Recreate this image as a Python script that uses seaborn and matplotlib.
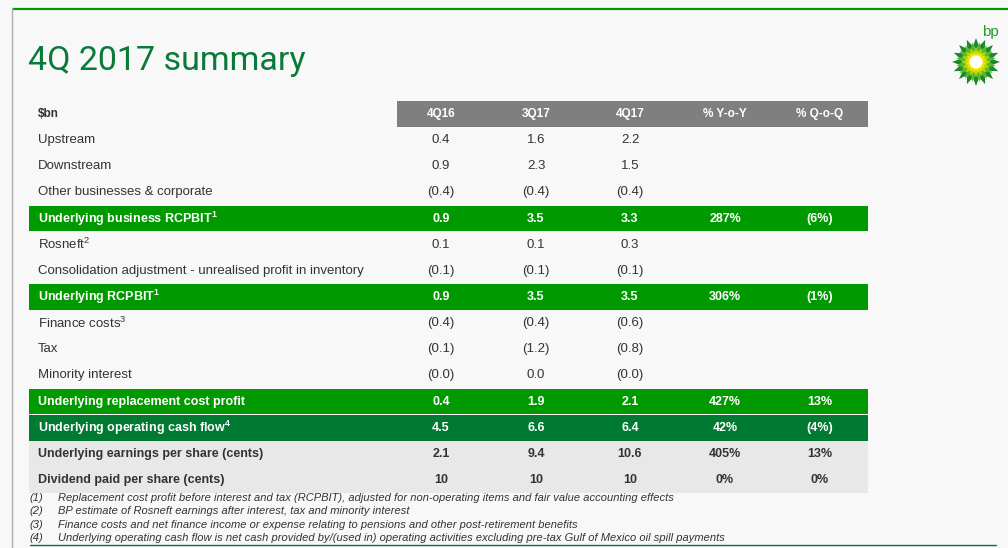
import numpy as np
import matplotlib
matplotlib.use("Agg")
import matplotlib.pyplot as plt
from matplotlib.patches import Polygon, Rectangle, Circle
import seaborn as sns

sns.set_theme(style="white")
plt.rcParams['font.family'] = ['Liberation Sans', 'DejaVu Sans']
plt.rcParams['mathtext.fontset'] = 'custom'
plt.rcParams['mathtext.rm'] = 'Liberation Sans'
plt.rcParams['mathtext.bf'] = 'Liberation Sans:bold'

# ---- data ----
columns = ['4Q16', '3Q17', '4Q17', '% Y-o-Y', '% Q-o-Q']
labels = ['Upstream', 'Downstream', 'Other businesses & corporate',
          r'Underlying business RCPBIT$^{\mathbf{1}}$', r'Rosneft$^{2}$',
          'Consolidation adjustment - unrealised profit in inventory',
          r'Underlying RCPBIT$^{\mathbf{1}}$', r'Finance costs$^{3}$', 'Tax',
          'Minority interest', 'Underlying replacement cost profit',
          r'Underlying operating cash flow$^{\mathbf{4}}$',
          'Underlying earnings per share (cents)',
          'Dividend paid per share (cents)']
q4_16 = ['0.4', '0.9', '(0.4)', '0.9', '0.1', '(0.1)', '0.9', '(0.4)', '(0.1)',
         '(0.0)', '0.4', '4.5', '2.1', '10']
q3_17 = ['1.6', '2.3', '(0.4)', '3.5', '0.1', '(0.1)', '3.5', '(0.4)', '(1.2)',
         '0.0', '1.9', '6.6', '9.4', '10']
q4_17 = ['2.2', '1.5', '(0.4)', '3.3', '0.3', '(0.1)', '3.5', '(0.6)', '(0.8)',
         '(0.0)', '2.1', '6.4', '10.6', '10']
yoy = ['', '', '', '287%', '', '', '306%', '', '', '', '427%', '42%', '405%', '0%']
qoq = ['', '', '', '(6%)', '', '', '(1%)', '', '', '', '13%', '(4%)', '13%', '0%']
row_kind = ['n', 'n', 'n', 'g', 'n', 'n', 'g', 'n', 'n', 'n', 'g', 'd', 'l', 'l']
footnotes = ['Replacement cost profit before interest and tax (RCPBIT), adjusted for non-operating items and fair value accounting effects',
             'BP estimate of Rosneft earnings after interest, tax and minority interest',
             'Finance costs and net finance income or expense relating to pensions and other post-retirement benefits',
             'Underlying operating cash flow is net cash provided by/(used in) operating activities excluding pre-tax Gulf of Mexico oil spill payments']

GREEN = '#009a00'
DKGREEN = '#007a33'
GREY = '#7f7f7f'
LTGREY = '#e8e8e8'
TXT = '#333333'

fig = plt.figure(figsize=(10.08, 5.48), dpi=100)
fig.patch.set_facecolor('#f8f8f8')
ax = fig.add_axes([0, 0, 1, 1])
ax.set_xlim(0, 1008)
ax.set_ylim(548, 0)
ax.axis('off')

# frame lines
ax.plot([12, 1008], [9, 9], color=GREEN, lw=1.6, solid_capstyle='butt')
ax.plot([12, 12], [8, 548], color='#b0b0b0', lw=1)

ax.text(28, 61, '4Q 2017 summary', fontsize=24.5, color='#0a7a3a',
        family=['Roboto', 'DejaVu Sans'], fontweight='normal', va='center')

# bp logo
cx, cy = 976, 62
def star(r_out, r_in, n, rot=0):
    ang = np.linspace(0, 2 * np.pi, 2 * n, endpoint=False) + rot
    rr = np.where(np.arange(2 * n) % 2 == 0, r_out, r_in)
    return np.column_stack([cx + rr * np.sin(ang), cy - rr * np.cos(ang)])
ax.add_patch(Polygon(star(24, 16, 16), closed=True, color='#1a8a2a', lw=0))
ax.add_patch(Polygon(star(20, 13, 16, np.pi / 16), closed=True, color='#5cb82e', lw=0))
ax.add_patch(Polygon(star(15, 10, 16), closed=True, color='#b5d900', lw=0))
ax.add_patch(Polygon(star(11, 7.5, 16, np.pi / 16), closed=True, color='#ffe600', lw=0))
ax.add_patch(Circle((cx, cy), 6.5, color='#ffffff', lw=0))
ax.text(990, 32, 'bp', fontsize=11, color='#2a9a2a', ha='center', va='center')

# table
col_x = [441, 536, 630, 725, 820]
row_h = 26.15
y0 = 127
ax.add_patch(Rectangle((397, 101), 471, 26, color=GREY, lw=0))
ax.text(38, 114, '$bn', fontsize=8.5, fontweight='bold', color=TXT, va='center')
for x, c in zip(col_x, columns):
    ax.text(x, 114, c, fontsize=8.5, fontweight='bold', color='white',
            ha='center', va='center')

for i, lab in enumerate(labels):
    top = y0 + i * row_h
    yc = top + row_h / 2
    kind = row_kind[i]
    if kind == 'g':
        ax.add_patch(Rectangle((29, top + 0.5), 839, row_h - 1, color=GREEN, lw=0))
    elif kind == 'd':
        ax.add_patch(Rectangle((29, top), 839, row_h, color=DKGREEN, lw=0))
    elif kind == 'l':
        ax.add_patch(Rectangle((29, top), 839, row_h, color=LTGREY, lw=0))
    color = 'white' if kind in ('g', 'd') else TXT
    weight = 'normal' if kind == 'n' else 'bold'
    size = 9.5 if kind == 'n' else 9
    ax.text(38, yc, lab, fontsize=size, fontweight=weight, color=color, va='center')
    vals = [q4_16[i], q3_17[i], q4_17[i], yoy[i], qoq[i]]
    for x, v in zip(col_x, vals):
        ax.text(x, yc, v, fontsize=size, fontweight=weight, color=color,
                ha='center', va='center')

for k, note in enumerate(footnotes):
    yy = 498 + k * 13.3
    ax.text(29, yy, f'({k + 1})', fontsize=8, style='italic', color=TXT, va='center')
    ax.text(58, yy, note, fontsize=8, style='italic', color=TXT, va='center')
ax.plot([30, 996], [545, 545], color=DKGREEN, lw=1)

fig.savefig('out.png', dpi=100, facecolor=fig.get_facecolor())
